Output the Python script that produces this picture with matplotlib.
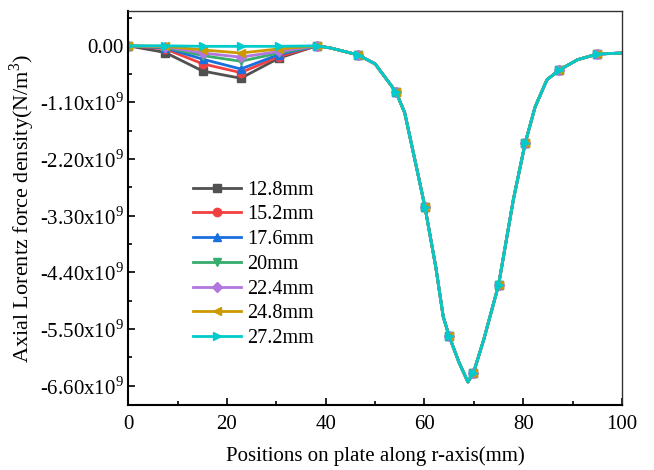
import matplotlib
matplotlib.use('Agg')
import matplotlib.pyplot as plt
from matplotlib.ticker import FuncFormatter, MultipleLocator
import numpy as np

plt.rcParams['font.family'] = ['Liberation Serif', 'DejaVu Serif']
plt.rcParams['mathtext.fontset'] = 'custom'
plt.rcParams['mathtext.rm'] = 'Liberation Serif'

# positions along r-axis (mm)
x = [0, 7.5, 15.1, 22.8, 30.5, 38.2, 40.9, 46.5, 50, 54.2, 56.0, 58.5, 60.1, 62.3,
     63.8, 65.0, 67.0, 68.8, 69.9, 72.0, 75.0, 78.0, 80.4, 82.4, 84.8, 87.3, 91.0,
     95.0, 100.0]
marker_idx = [0, 1, 2, 3, 4, 5, 7, 9, 12, 15, 18, 20, 22, 25, 27]

# shared part of the curve from 38.2 mm onwards (x1e9 N/m^3)
tail = [0.0, -0.04, -0.175, -0.35, -0.89, -1.30, -2.41, -3.13, -4.30, -5.26, -5.64,
        -6.15, -6.53, -6.36, -5.71, -4.65, -2.99, -1.89, -1.19, -0.66, -0.47, -0.27,
        -0.16, -0.14]

labels = ['12.8mm', '15.2mm', '17.6mm', '20mm', '22.4mm', '24.8mm', '27.2mm']
head_128 = [0, -0.13, -0.49, -0.63, -0.24]
head_152 = [0, -0.06, -0.35, -0.52, -0.21]
head_176 = [0, -0.04, -0.26, -0.45, -0.17]
head_200 = [0, -0.03, -0.19, -0.30, -0.14]
head_224 = [0, -0.02, -0.14, -0.22, -0.11]
head_248 = [0, -0.01, -0.08, -0.14, -0.06]
head_272 = [0, 0.0, -0.01, -0.01, -0.01]
heads = [head_128, head_152, head_176, head_200, head_224, head_248, head_272]

colors = ['#515151', '#F14040', '#1A6FDF', '#37AD6B', '#B177DE', '#CC9900', '#00CBCC']
markers = ['s', 'o', '^', 'v', 'D', '<', '>']

fig, ax = plt.subplots(figsize=(6.54, 4.70), dpi=100)
fig.subplots_adjust(left=0.196, right=0.951, bottom=0.138, top=0.977)

for head, lab, c, m in zip(heads, labels, colors, markers):
    y = head + tail
    ms = 5 if m == 'D' else 6
    ax.plot(x, y, color=c, lw=2, marker=m, markersize=ms, markevery=marker_idx, label=lab)

ax.set_xlim(0, 100)
ax.set_ylim(-6.98, 0.68)
ax.xaxis.set_major_locator(MultipleLocator(20))
ax.xaxis.set_minor_locator(MultipleLocator(10))
ax.set_yticks([0, -1.1, -2.2, -3.3, -4.4, -5.5, -6.6])
ax.yaxis.set_minor_locator(MultipleLocator(0.55))


def yfmt(v, pos):
    if abs(v) < 1e-9:
        return '0.00'
    return '%.2fx10$^9$' % v


ax.yaxis.set_major_formatter(FuncFormatter(yfmt))
ax.tick_params(which='both', direction='in', top=False, right=False, labelsize=15, width=1.2)
ax.tick_params(axis='x', pad=7)
ax.tick_params(which='major', length=5)
ax.tick_params(which='minor', length=3)
ax.spines['left'].set_linewidth(1.5)
ax.spines['bottom'].set_linewidth(1.5)
ax.spines['top'].set_linewidth(1.0)
ax.spines['right'].set_linewidth(1.0)
ax.spines['top'].set_color('#333333')
ax.spines['right'].set_color('#333333')

ax.set_xlabel('Positions on plate along r-axis(mm)', fontsize=15, labelpad=9)
ax.set_ylabel('Axial Lorentz force density(N/m$^3$)', fontsize=16, labelpad=2)

ax.legend(loc='upper left', bbox_to_anchor=(0.11, 0.595), frameon=False, fontsize=14.5,
          handlelength=2.4, handletextpad=0.3, labelspacing=0.28, borderpad=0)

plt.savefig('out.png', dpi=100)
